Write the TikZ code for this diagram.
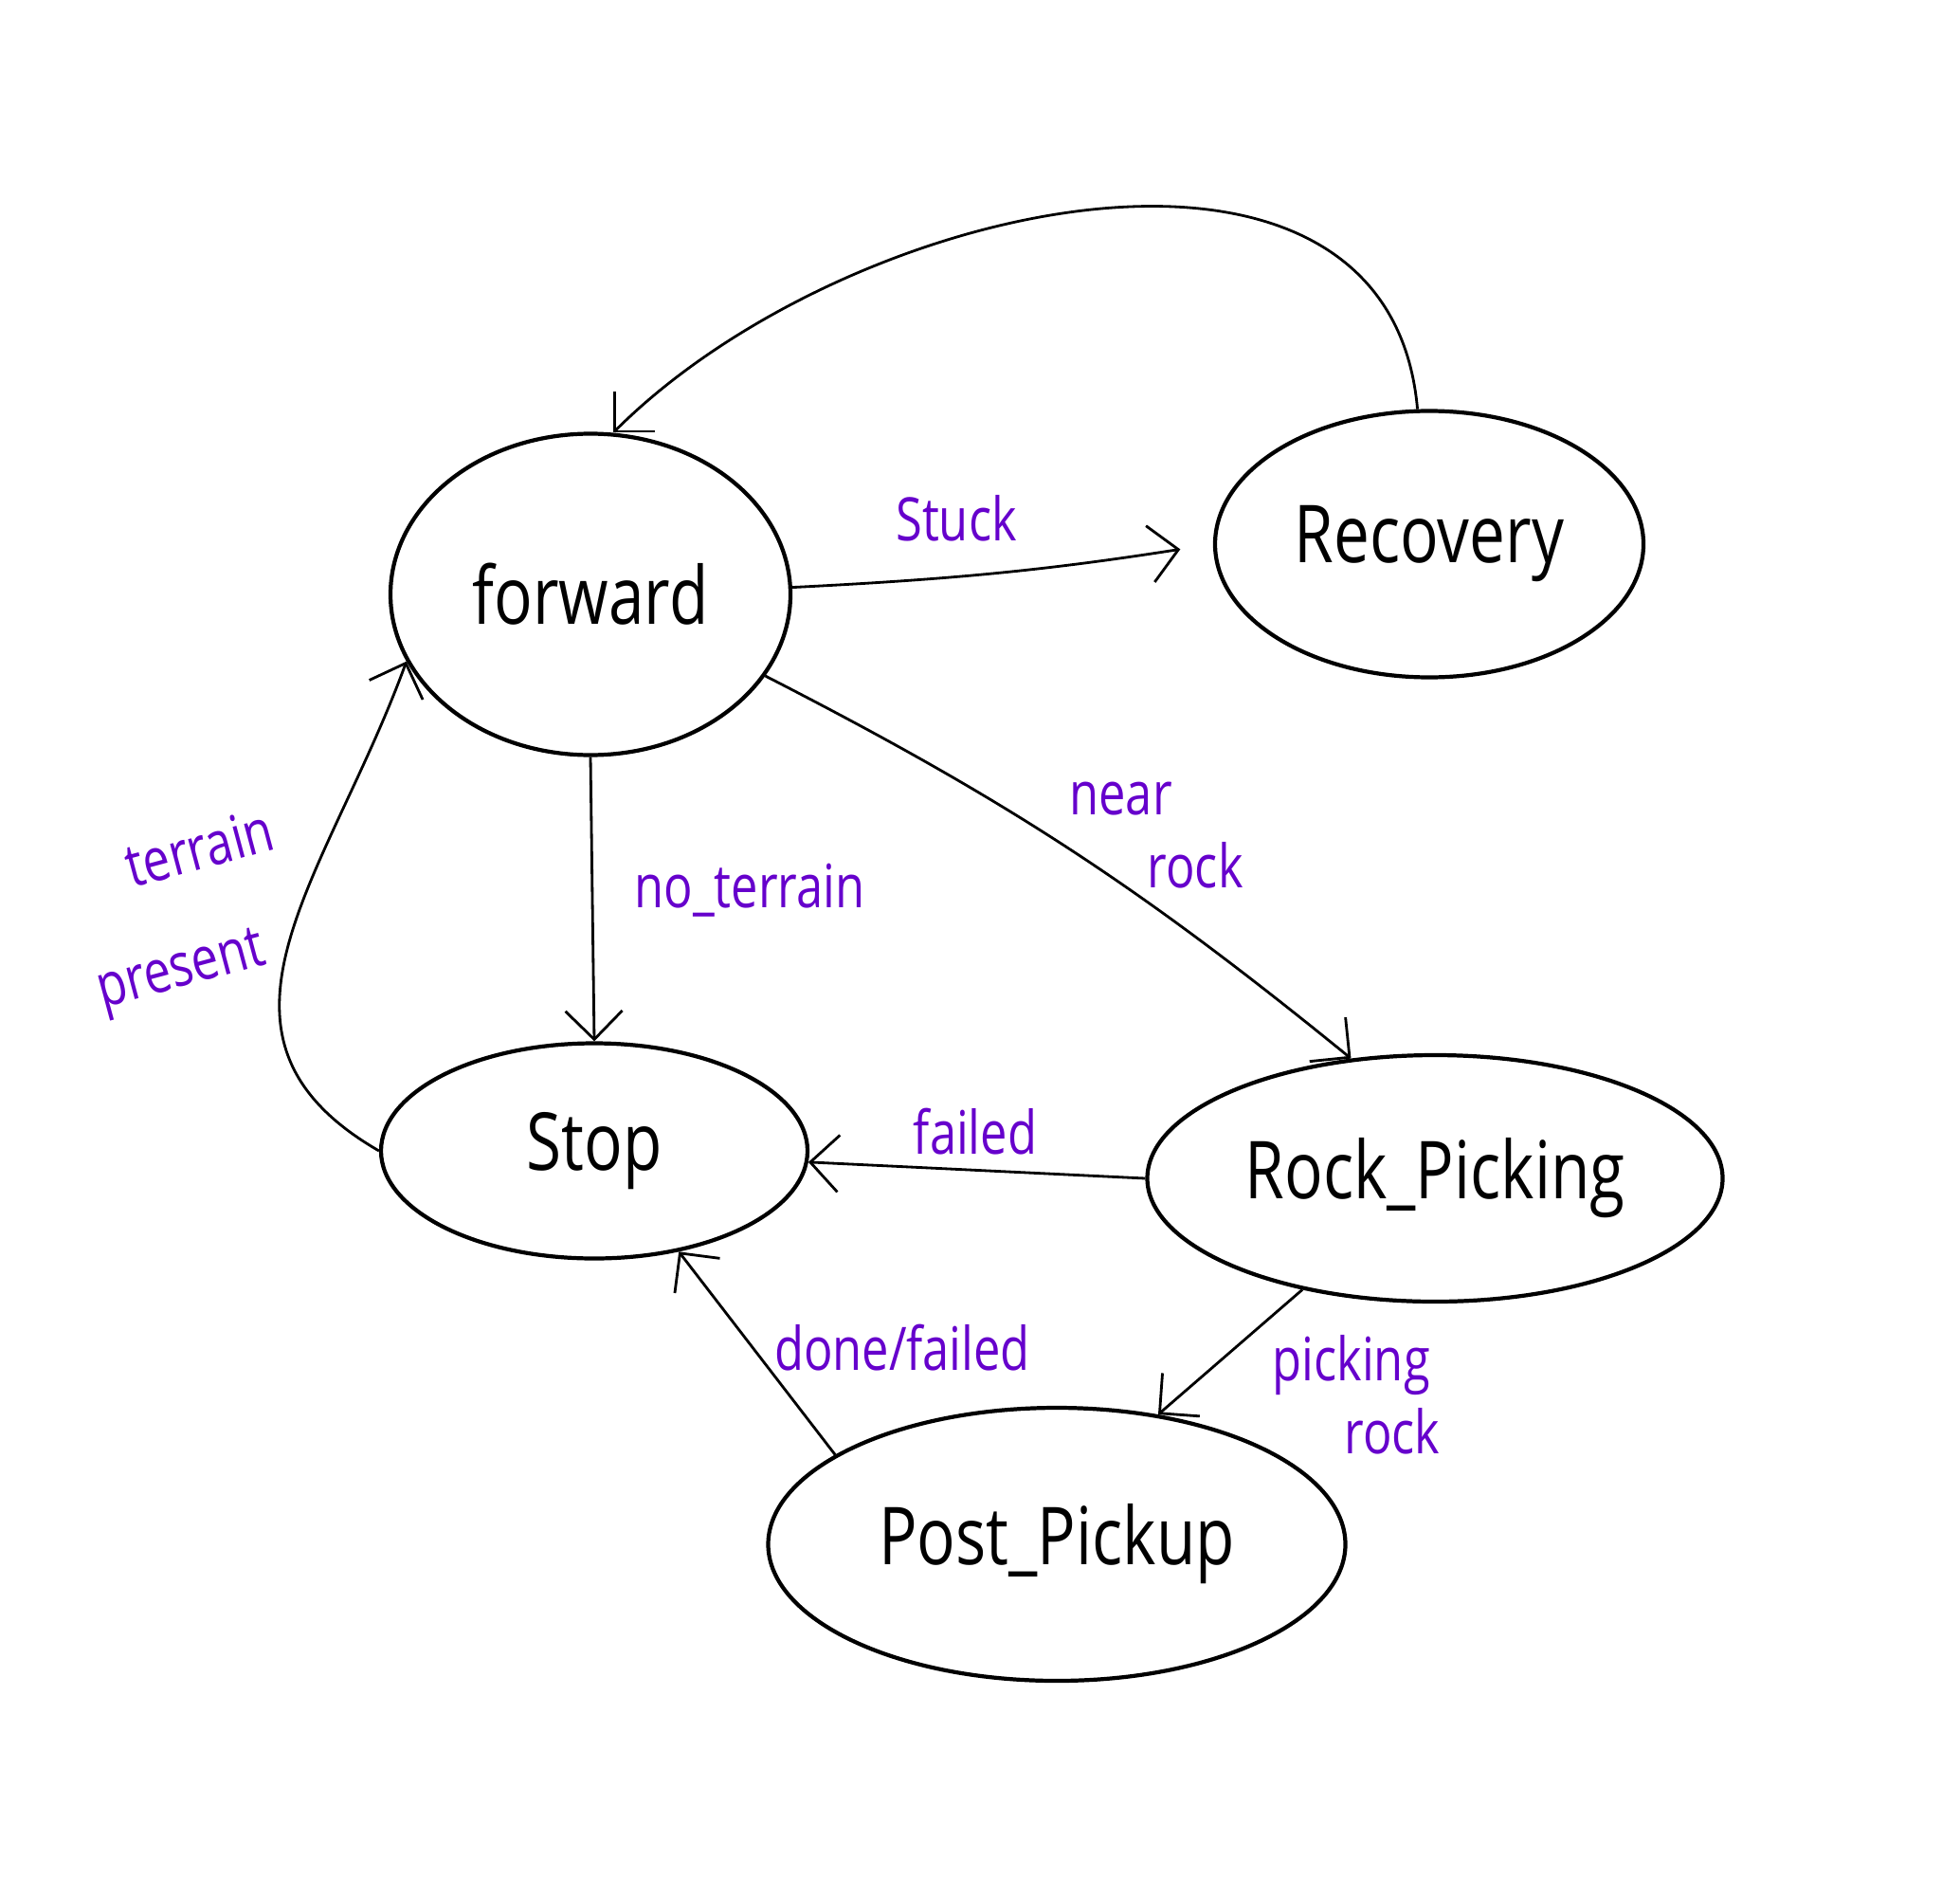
\documentclass[tikz,border=0pt]{standalone}
\usepackage{fontspec}
\setmainfont{Open Sans}
\newfontfamily\handfont[FakeStretch=0.8]{Open Sans}
\usetikzlibrary{shapes.geometric,arrows.meta}
\definecolor{notepurple}{HTML}{6600CC}

\begin{document}
\begin{tikzpicture}[
    state/.style={ellipse, draw, line width=1.2pt, inner sep=0pt, font=\handfont\fontsize{24}{28}\selectfont},
    trans/.style={-{Straight Barb[length=3mm,width=6mm]}, line width=0.8pt},
    cond/.style={text=notepurple, font=\handfont\fontsize{18}{22}\selectfont, align=center}
]
    \useasboundingbox (0,0) rectangle (20.68,19.99);

    % States
    \node[state, minimum width=4.22cm, minimum height=3.39cm] (forward) at (6.23,13.72) {forward};
    \node[state, minimum width=4.52cm, minimum height=2.81cm] (recovery) at (15.08,14.25) {Recovery};
    \node[state, minimum width=4.50cm, minimum height=2.27cm] (stop) at (6.27,7.85) {Stop};
    \node[state, minimum width=6.07cm, minimum height=2.60cm] (rockpick) at (15.14,7.56) {Rock\_Picking};
    \node[state, minimum width=6.09cm, minimum height=2.88cm] (postpick) at (11.15,3.70) {Post\_Pickup};

    % Transitions
    \draw[trans, shorten >=3.5mm] (forward.2) to[bend right=3] (recovery.west);
    \draw[trans] (recovery.95) to[out=95, in=45, looseness=1.05] (forward.82);
    \draw[trans] (forward.south) -- (stop.north);
    \draw[trans] (stop.west) to[out=150, in=250, looseness=1.2] (forward.200);
    \draw[trans] (forward.-25) to[bend left=6] (rockpick.125);
    \draw[trans] (rockpick.west) -- (stop.-3);
    \draw[trans] (rockpick.220) -- (postpick.52);
    \draw[trans] (postpick.158) -- (stop.-50);

    % Conditions
    \node[cond, rotate=15] (terrain) at (2.10,11.05) {terrain};
    \node[cond, rotate=15] (present) at (1.92,9.72) {present};
    \node[cond] (stuck) at (10.09,14.52) {Stuck};
    \node[cond] (noterrain) at (7.91,10.60) {no\_terrain};
    \node[cond, align=left] (nearrock) at (12.20,11.18) {near\\\hspace*{1.3em}rock};
    \node[cond] (failed) at (10.29,8.05) {failed};
    \node[cond, align=left] (picking) at (14.31,5.28) {picking\\\hspace*{1.2em}rock};
    \node[cond] (donefailed) at (9.52,5.77) {done/failed};
\end{tikzpicture}
\end{document}
